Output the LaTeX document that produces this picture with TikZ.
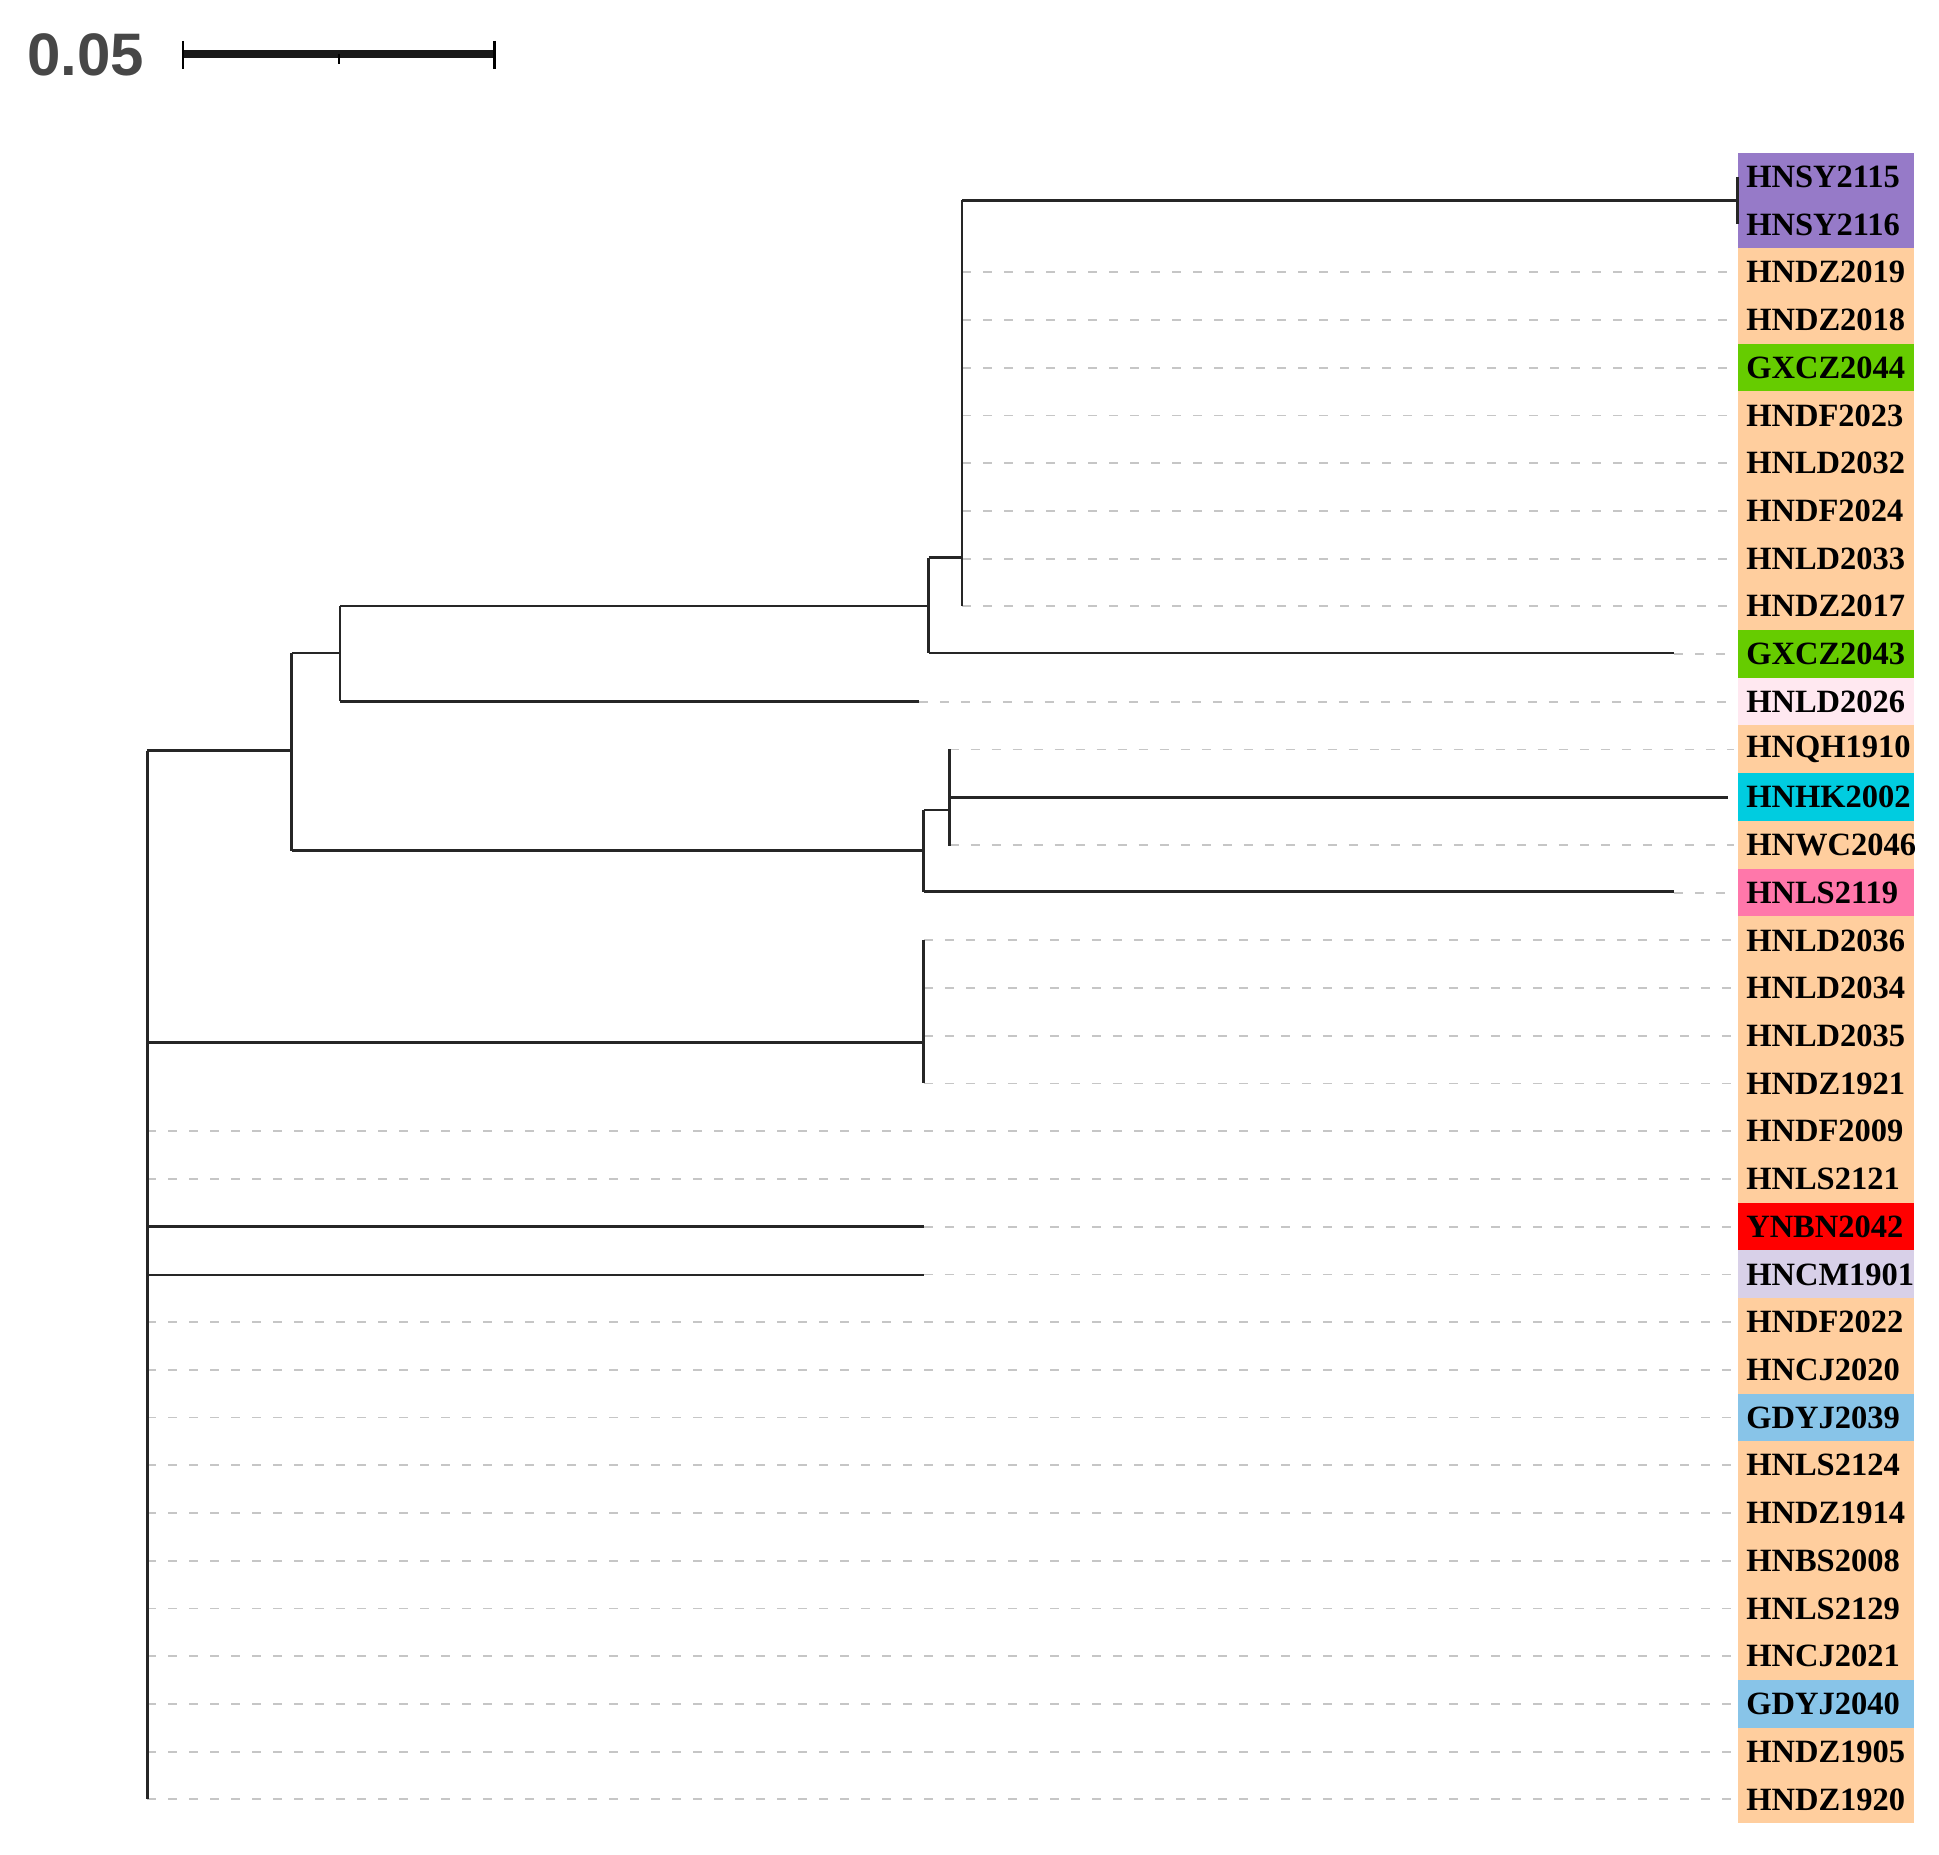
\documentclass[tikz,border=0pt]{standalone}
\usepackage{fontspec}
\setmainfont{Liberation Serif}
\setsansfont{Liberation Sans}
\begin{document}
\begin{tikzpicture}[x=1.2365pt,y=-1.2365pt,
 br/.style={line width=2.8pt,black!85},
 dl/.style={line width=1.8pt,gray!45,dash pattern=on 9pt off 12pt},
 lab/.style={anchor=west,inner sep=0pt,font=\bfseries\fontsize{32.5}{32.5}\selectfont},
 cell/.style={inner sep=0pt,minimum width=143*1.2365pt,minimum height=38.8*1.2365pt,anchor=west}]
\useasboundingbox (0,0) rectangle (1568,1500);
\definecolor{cpur}{RGB}{150,122,200}
\definecolor{cpea}{RGB}{255,206,158}
\definecolor{cgrn}{RGB}{102,204,0}
\definecolor{cpnk}{RGB}{255,232,240}
\definecolor{ccya}{RGB}{0,204,224}
\definecolor{cpin}{RGB}{255,119,170}
\definecolor{cred}{RGB}{255,0,0}
\definecolor{clav}{RGB}{216,208,232}
\definecolor{cblu}{RGB}{136,196,232}
% scale bar
\node[anchor=west,inner sep=0pt,font=\sffamily\bfseries\fontsize{60}{60}\selectfont,text=black!72] (sc) at (22,44) {0.05};
\coordinate (s1) at (148,44); \coordinate (s2) at (400,44);
\draw[line width=8pt,black!90] (s1) -- (s2);
\draw[line width=2.5pt] (148,33) -- (148,56) (400,33) -- (400,56) (274,44) -- (274,52);
% leaves
\foreach \n/\c [count=\i from 0] in {HNSY2115/cpur,HNSY2116/cpur,HNDZ2019/cpea,HNDZ2018/cpea,GXCZ2044/cgrn,HNDF2023/cpea,HNLD2032/cpea,HNDF2024/cpea,HNLD2033/cpea,HNDZ2017/cpea,GXCZ2043/cgrn,HNLD2026/cpnk,HNQH1910/cpea,HNHK2002/ccya,HNWC2046/cpea,HNLS2119/cpin,HNLD2036/cpea,HNLD2034/cpea,HNLD2035/cpea,HNDZ1921/cpea,HNDF2009/cpea,HNLS2121/cpea,YNBN2042/cred,HNCM1901/clav,HNDF2022/cpea,HNCJ2020/cpea,GDYJ2039/cblu,HNLS2124/cpea,HNDZ1914/cpea,HNBS2008/cpea,HNLS2129/cpea,HNCJ2021/cpea,GDYJ2040/cblu,HNDZ1905/cpea,HNDZ1920/cpea}{
 \node[cell,fill=\c] (c\i) at (1405,143+38.59*\i) {};
 \node[lab] (\n) at (1412,143+38.59*\i) {\n};
}
% dashed leaves
\foreach \x/\i in {778/2,778/3,778/4,778/5,778/6,778/7,778/8,778/9,1354/10,743/11,768/12,768/14,1354/15,747/16,747/17,747/18,747/19,119/20,119/21,747/22,747/23,119/24,119/25,119/26,119/27,119/28,119/29,119/30,119/31,119/32,119/33,119/34}
 \draw[dl] (\x,143+38.59*\i) -- ([xshift=-3pt]c\i.west);
% tree
\draw[br] (119,607) -- (119,1455);
\draw[br] (119,607) -- (236,607);
\draw[br] (236,528) -- (236,688);
\draw[br] (236,528) -- (275,528) (275,490) -- (275,567);
\draw[br] (275,490) -- (751,490) (275,567) -- (743,567);
\draw[br] (751,451) -- (751,528) (751,451) -- (778,451) (751,528) -- (1354,528);
\draw[br] (778,162) -- (778,490) (778,162) -- (1405,162) (1405,143) -- (1405,181);
\draw[br] (236,688) -- (747,688) (747,655) -- (747,721) (747,655) -- (768,655) (747,721) -- (1354,721);
\draw[br] (768,606) -- (768,684) (768,645) -- (1397,645);
\draw[br] (119,843) -- (747,843) (747,760) -- (747,876);
\draw[br] (119,992) -- (747,992) (119,1031) -- (747,1031);
\end{tikzpicture}
\end{document}
